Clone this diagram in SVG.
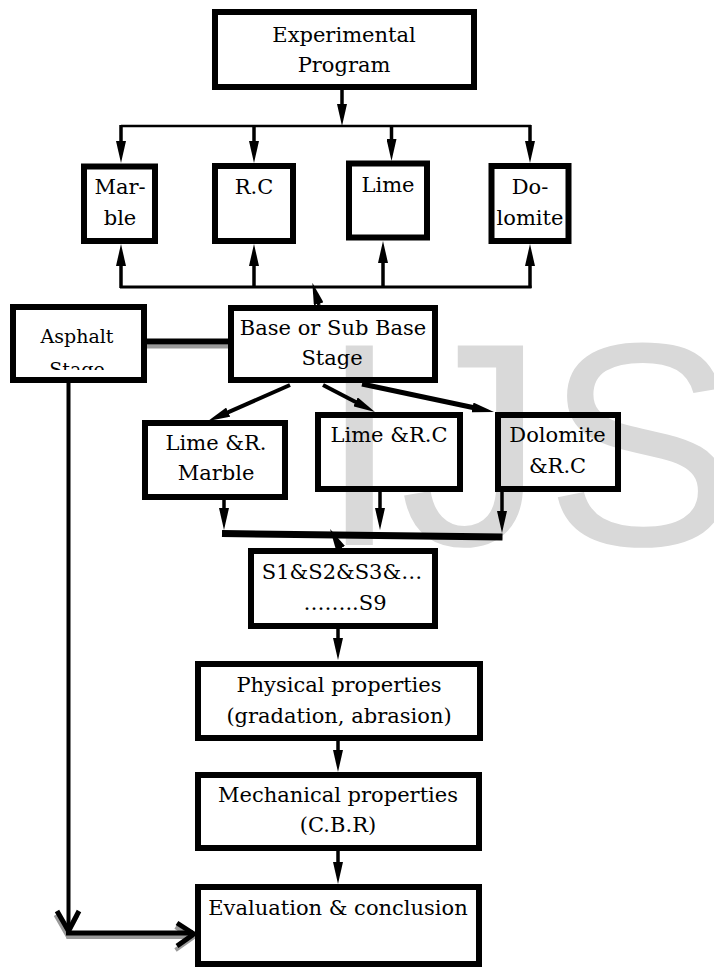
<svg xmlns="http://www.w3.org/2000/svg" width="714" height="968" viewBox="0 0 714 968">
<style>
.box{fill:none;stroke:#000;stroke-width:6}
.t{font-family:"DejaVu Serif","Liberation Serif",serif;font-size:21px;fill:#000;text-anchor:middle}
.ts{font-size:19px}
.c{fill:none;stroke:#000;stroke-width:3.5}
.thin{fill:none;stroke:#000;stroke-width:2.5}
.wm{font-family:"Liberation Sans",Arial,sans-serif;font-size:290px;fill:#d9d9d9}
.sh{fill:none;stroke:#9a9a9a;stroke-width:4}
</style>
<defs>
<marker id="ah" viewBox="0 0 22 10" refX="4" refY="5" markerWidth="22" markerHeight="10" markerUnits="userSpaceOnUse" orient="auto">
<path d="M0,0 L22,5 L0,10 Z" fill="#000"/>
</marker>
<clipPath id="clipA"><rect x="16" y="300" width="125" height="70"/></clipPath>
</defs>
<rect width="714" height="968" fill="#fff"/>
<text class="wm" x="319" y="545">IJS</text>

<g id="connectors">
<line class="c" x1="342" y1="90" x2="342" y2="108" marker-end="url(#ah)"/>
<line class="thin" x1="121" y1="126" x2="531" y2="126"/>
<line class="c" x1="121" y1="125" x2="121" y2="145" marker-end="url(#ah)"/>
<line class="c" x1="254" y1="125" x2="254" y2="145" marker-end="url(#ah)"/>
<line class="c" x1="391.5" y1="125" x2="391.5" y2="143" marker-end="url(#ah)"/>
<line class="c" x1="530" y1="125" x2="530" y2="145" marker-end="url(#ah)"/>
<line class="thin" x1="120" y1="287" x2="531.5" y2="287" style="stroke-width:3"/>
<line class="c" x1="121" y1="288" x2="121" y2="262" marker-end="url(#ah)"/>
<line class="c" x1="254" y1="288" x2="254" y2="262" marker-end="url(#ah)"/>
<line class="c" x1="383" y1="288" x2="383" y2="259" marker-end="url(#ah)"/>
<line class="c" x1="530" y1="288" x2="530" y2="262" marker-end="url(#ah)"/>
<line class="c" x1="319" y1="305" x2="317.5" y2="300" marker-end="url(#ah)"/>
<line class="sh" x1="147" y1="346.5" x2="228" y2="346.5"/>
<line x1="147" y1="341.5" x2="228" y2="341.5" stroke="#000" stroke-width="6"/>
<line class="c" x1="290" y1="385" x2="224.5" y2="413.8" style="stroke-width:4" marker-end="url(#ah)"/>
<line class="c" x1="323" y1="385" x2="359" y2="403.7" style="stroke-width:4" marker-end="url(#ah)"/>
<line class="c" x1="362" y1="384" x2="476.4" y2="408.3" style="stroke-width:5" marker-end="url(#ah)"/>
<line class="c" x1="224" y1="500" x2="224" y2="512" marker-end="url(#ah)"/>
<line class="c" x1="380" y1="492" x2="380" y2="512" marker-end="url(#ah)"/>
<line class="c" x1="502" y1="492" x2="502" y2="515" marker-end="url(#ah)"/>
<line x1="222" y1="533.5" x2="502.5" y2="537" stroke="#000" stroke-width="7"/>
<line class="c" x1="341" y1="549" x2="338.7" y2="544.8" marker-end="url(#ah)"/>
<line class="c" x1="338" y1="629" x2="338" y2="642" marker-end="url(#ah)"/>
<line class="c" x1="338" y1="741" x2="338" y2="754" marker-end="url(#ah)"/>
<line class="c" x1="338" y1="851" x2="338" y2="866" marker-end="url(#ah)"/>
<g transform="translate(-1.5,4)">
<polyline class="sh" points="57,911 68.5,931 79,911"/>
<line class="sh" x1="68" y1="933" x2="192" y2="933"/>
<polyline class="sh" points="177,923 194,934 177,946"/>
</g>
<line x1="68.5" y1="383" x2="68.5" y2="932" stroke="#000" stroke-width="4"/>
<polyline points="57,911 68.5,931 79,911" fill="none" stroke="#000" stroke-width="5" stroke-linejoin="round"/>
<line x1="66" y1="933" x2="193" y2="933" stroke="#000" stroke-width="5"/>
<polyline points="177,923 194,934 177,946" fill="none" stroke="#000" stroke-width="5" stroke-linejoin="round"/>
</g>

<g id="n-experimental">
<rect class="box" x="215" y="12" width="259" height="75"/>
<text class="t" x="344" y="42">Experimental</text>
<text class="t" x="344" y="72">Program</text>
</g>
<g id="n-marble">
<rect class="box" x="84" y="166.5" width="71" height="74.5"/>
<text class="t" x="120" y="194">Mar-</text>
<text class="t" x="120" y="225">ble</text>
</g>
<g id="n-rc">
<rect class="box" x="215" y="166" width="78" height="75"/>
<text class="t" x="254" y="194">R.C</text>
</g>
<g id="n-lime">
<rect class="box" x="349" y="163.5" width="78" height="74"/>
<text class="t" x="388" y="192">Lime</text>
</g>
<g id="n-dolomite">
<rect class="box" x="491.5" y="166" width="77" height="75"/>
<text class="t" x="530" y="194">Do-</text>
<text class="t" x="530" y="225">lomite</text>
</g>
<g id="n-asphalt">
<rect class="box" x="13" y="307" width="131" height="73"/>
<text class="t ts" x="77" y="343">Asphalt</text>
<text class="t ts" x="77" y="376" clip-path="url(#clipA)">Stage</text>
</g>
<g id="n-base">
<rect class="box" x="231" y="308" width="204" height="72"/>
<text class="t" x="333" y="335">Base or Sub Base</text>
<text class="t" x="332" y="365">Stage</text>
</g>
<g id="n-lime-marble">
<rect class="box" x="145" y="423" width="140" height="74"/>
<text class="t" x="216" y="450">Lime &amp;R.</text>
<text class="t" x="216" y="480">Marble</text>
</g>
<g id="n-lime-rc">
<rect class="box" x="318" y="415" width="142" height="74"/>
<text class="t" x="389" y="442">Lime &amp;R.C</text>
</g>
<g id="n-dolomite-rc">
<rect class="box" x="498" y="415" width="120" height="74"/>
<text class="t" x="557.5" y="442">Dolomite</text>
<text class="t" x="557.5" y="473">&amp;R.C</text>
</g>
<g id="n-s">
<rect class="box" x="251" y="551" width="184" height="75"/>
<text class="t" x="342" y="579">S1&amp;S2&amp;S3&amp;…</text>
<text class="t" x="345" y="610">……..S9</text>
</g>
<g id="n-physical">
<rect class="box" x="198" y="664" width="282" height="74"/>
<text class="t" x="339" y="692">Physical properties</text>
<text class="t" x="339" y="723">(gradation, abrasion)</text>
</g>
<g id="n-mechanical">
<rect class="box" x="198" y="775" width="281" height="73"/>
<text class="t" x="338" y="802">Mechanical properties</text>
<text class="t" x="338" y="832">(C.B.R)</text>
</g>
<g id="n-evaluation">
<rect class="box" x="198" y="887" width="281" height="77"/>
<text class="t" x="338" y="915">Evaluation &amp; conclusion</text>
</g>
</svg>
